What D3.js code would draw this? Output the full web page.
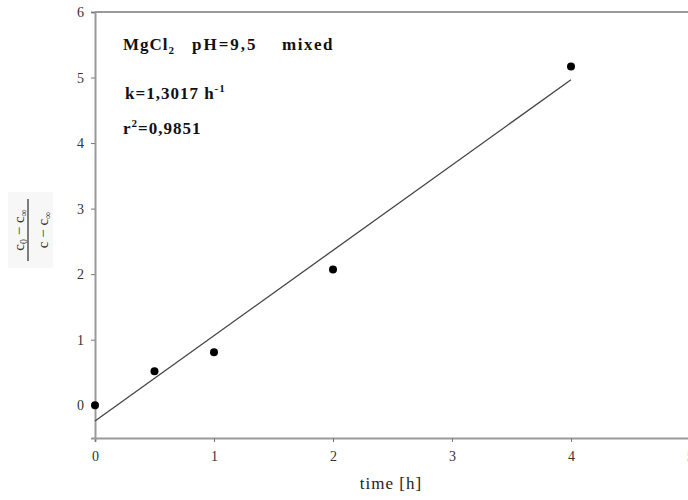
<!DOCTYPE html>
<html>
<head>
<meta charset="utf-8">
<script src="https://cdn.jsdelivr.net/npm/d3@7"></script>
<style>
  html, body { margin: 0; padding: 0; background: #fff; overflow: hidden; }
  svg { display: block; }
</style>
</head>
<body>
<svg id="chart" width="688" height="500"></svg>
<script>
// Messpunkte: Zeit [h] und (c0 - c∞)/(c - c∞)
const timeH = [0, 0.5, 1, 2, 4];
const ratio = [0, 0.52, 0.81, 2.07, 5.17];

// Regressionsgerade y = k·t + b
const k = 1.3017;
const intercept = -0.24;
const fitRange = [0, 4];

const xTicks = [0, 1, 2, 3, 4, 5];
const yTicks = [0, 1, 2, 3, 4, 5, 6];

const svg = d3.select('#chart');
const m = { left: 95, top: 12, right: 690, bottom: 438 };

const x = d3.scaleLinear().domain([0, 5]).range([m.left, m.right]);
const y = d3.scaleLinear().domain([-0.5, 6]).range([m.bottom, m.top]);

const serif = '"Liberation Serif", "Times New Roman", serif';
const axisCol = '#9a9a9a';

// Achsen
const xAxis = svg.append('g')
  .attr('transform', `translate(0,${m.bottom})`)
  .call(d3.axisBottom(x).tickValues(xTicks).tickSize(4).tickPadding(9).tickFormat(d3.format('d')));
const yAxis = svg.append('g')
  .attr('transform', `translate(${m.left},0)`)
  .call(d3.axisLeft(y).tickValues(yTicks).tickSize(4).tickPadding(7).tickFormat(d3.format('d')));

[xAxis, yAxis].forEach(a => {
  a.select('.domain').attr('stroke', axisCol).attr('stroke-width', 2);
  a.selectAll('.tick line').attr('stroke', '#777').attr('stroke-width', 1);
  a.selectAll('.tick text')
    .attr('fill', '#333')
    .attr('font-family', serif)
    .attr('font-size', 14);
});

// obere Rahmenlinie
svg.append('line')
  .attr('x1', m.left).attr('x2', m.right)
  .attr('y1', m.top).attr('y2', m.top)
  .attr('stroke', axisCol).attr('stroke-width', 2);

// Regressionsgerade
svg.append('line')
  .attr('x1', x(fitRange[0])).attr('y1', y(k * fitRange[0] + intercept))
  .attr('x2', x(fitRange[1])).attr('y2', y(k * fitRange[1] + intercept))
  .attr('stroke', '#444').attr('stroke-width', 1.3);

// Punkte
svg.append('g').selectAll('circle')
  .data(timeH.map((t, i) => [t, ratio[i]]))
  .join('circle')
  .attr('cx', d => x(d[0]))
  .attr('cy', d => y(d[1]))
  .attr('r', 4)
  .attr('fill', '#000');

// Beschriftung im Diagramm
const note = svg.append('g')
  .attr('font-family', serif)
  .attr('font-weight', 'bold')
  .attr('font-size', 17)
  .attr('letter-spacing', 1)
  .attr('fill', '#111');

const t1 = note.append('text').attr('x', 123).attr('y', 50);
t1.append('tspan').text('MgCl');
t1.append('tspan').attr('font-size', 11).attr('dy', 4).text('2');
t1.append('tspan').attr('dy', -4).attr('x', 192).attr('letter-spacing', 2).text('pH=9,5');
t1.append('tspan').attr('x', 282).attr('letter-spacing', 1.5).text('mixed');

const t2 = note.append('text').attr('x', 125).attr('y', 99);
t2.append('tspan').text('k=1,3017 h');
t2.append('tspan').attr('font-size', 11).attr('dy', -7).text('-1');

const t3 = note.append('text').attr('x', 123).attr('y', 134);
t3.append('tspan').text('r');
t3.append('tspan').attr('font-size', 11).attr('dy', -7).text('2');
t3.append('tspan').attr('dy', 7).text('=0,9851');

// x-Achsentitel
svg.append('text')
  .attr('x', 391)
  .attr('y', 489)
  .attr('text-anchor', 'middle')
  .attr('font-family', serif)
  .attr('font-size', 17)
  .attr('letter-spacing', 1)
  .attr('fill', '#222')
  .text('time [h]');

// y-Achsentitel: Bruch (c0 − c∞)/(c − c∞), gedreht
const yl = svg.append('g').attr('transform', 'translate(28,230) rotate(-90)');
yl.append('rect')
  .attr('x', -38).attr('y', -20).attr('width', 76).attr('height', 45)
  .attr('fill', '#f7f7f7');
yl.append('line')
  .attr('x1', -31).attr('x2', 31).attr('y1', 0).attr('y2', 0)
  .attr('stroke', '#555').attr('stroke-width', 1.5);
const num = yl.append('text')
  .attr('x', 0).attr('y', -4)
  .attr('text-anchor', 'middle')
  .attr('font-family', serif).attr('font-size', 15).attr('fill', '#333');
num.append('tspan').text('c');
num.append('tspan').attr('font-size', 10).attr('dy', 3).text('0');
num.append('tspan').attr('dy', -3).text(' − c');
num.append('tspan').attr('font-size', 10).attr('dy', 3).text('∞');
const den = yl.append('text')
  .attr('x', 0).attr('y', 20)
  .attr('text-anchor', 'middle')
  .attr('font-family', serif).attr('font-size', 15).attr('fill', '#333');
den.append('tspan').text('c − c');
den.append('tspan').attr('font-size', 10).attr('dy', 3).text('∞');
</script>
</body>
</html>
